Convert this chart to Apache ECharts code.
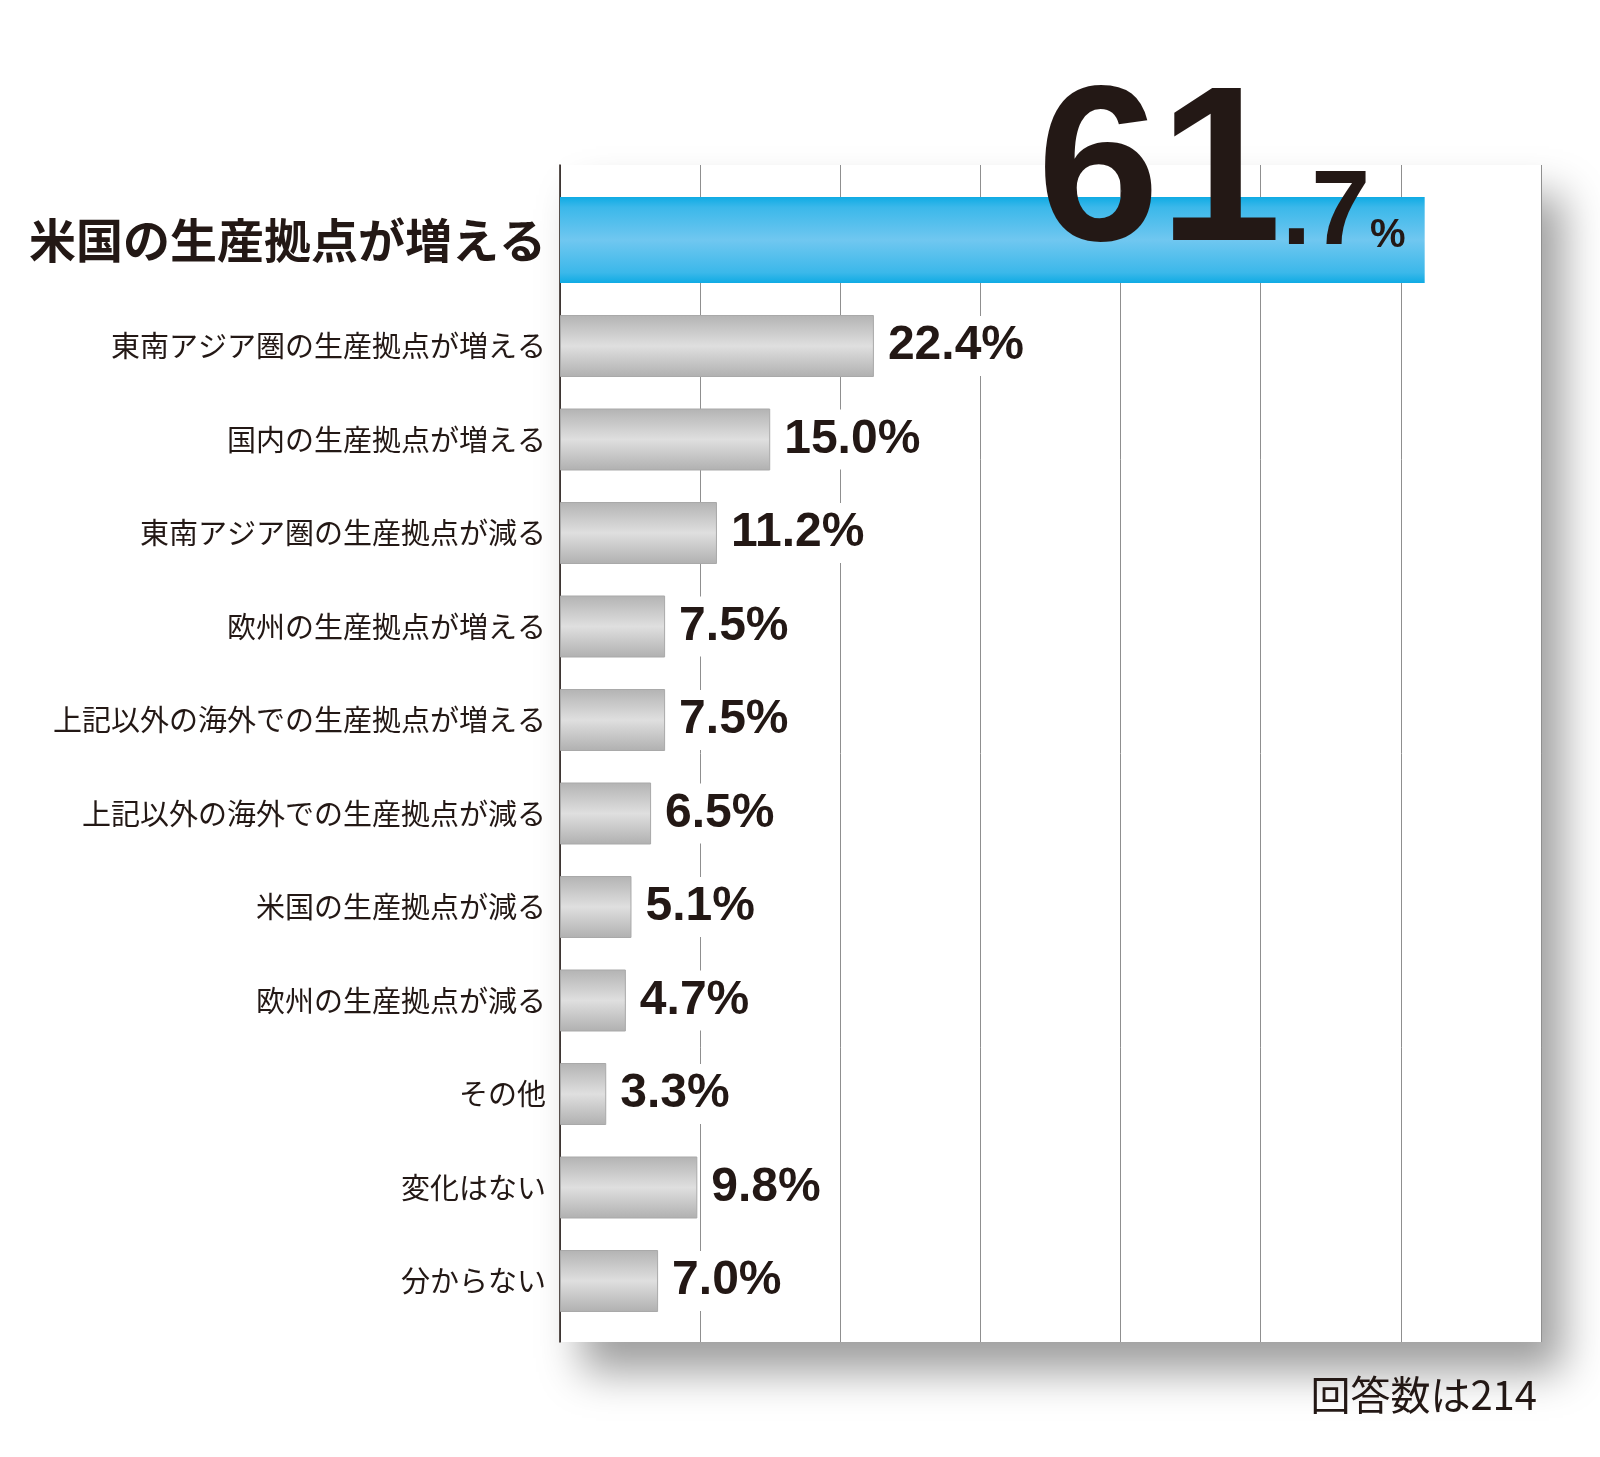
<!DOCTYPE html>
<html><head><meta charset="utf-8">
<script src="https://cdn.jsdelivr.net/npm/echarts@6/dist/echarts.min.js"></script>
<style>html,body{margin:0;padding:0;background:#fff}#c{width:1600px;height:1457px}</style>
</head><body><div id="c"></div>
<script>
const highlightCategory = ['米国の生産拠点が増える'];
const highlightValue = [61.7];
const categories = ['東南アジア圏の生産拠点が増える','国内の生産拠点が増える','東南アジア圏の生産拠点が減る','欧州の生産拠点が増える','上記以外の海外での生産拠点が増える','上記以外の海外での生産拠点が減る','米国の生産拠点が減る','欧州の生産拠点が減る','その他','変化はない','分からない'];
const values = [22.4,15.0,11.2,7.5,7.5,6.5,5.1,4.7,3.3,9.8,7.0];
const footnote = '回答数は214';

const ink = '#231815';
const cjk = "'Noto Sans CJK JP', sans-serif";
const numFont = "'Liberation Sans', Arial, sans-serif";
const bigFont = "'Liberation Sans', Arial, sans-serif";

const chart = echarts.init(document.getElementById('c'), null, {renderer:'canvas'});
const L = 560, W = 981;
chart.setOption({
  animation: false,
  title: {text: footnote, right: 58, top: 1370,
    textStyle: {fontFamily: cjk, fontSize: 40, fontWeight: 'normal', color: ink}},
  grid: [
    {left: L, top: 165, width: W, height: 1177, show: true, backgroundColor: '#fff', borderWidth: 0,
     shadowBlur: 40, shadowColor: 'rgba(0,0,0,0.38)', shadowOffsetX: 22, shadowOffsetY: 30},
    {left: L, top: 165, width: W, height: 150},
    {left: L, top: 299.25, width: W, height: 1028.5}
  ],
  xAxis: [
    {gridIndex: 0, type: 'value', min: 0, max: 70, interval: 10,
     axisLabel: {show: false}, axisTick: {show: false}, axisLine: {show: false},
     splitLine: {show: true, lineStyle: {color: '#8f8f8f', width: 1}}},
    {gridIndex: 1, type: 'value', min: 0, max: 70, interval: 10, show: false, splitLine: {show: false}},
    {gridIndex: 2, type: 'value', min: 0, max: 70, interval: 10, show: false, splitLine: {show: false}}
  ],
  yAxis: [
    {gridIndex: 0, type: 'value', min: 0, max: 1, axisLabel: {show: false}, axisTick: {show: false},
     splitLine: {show: false}, axisLine: {show: true, lineStyle: {color: ink, width: 1.5}}},
    {gridIndex: 1, type: 'category', data: highlightCategory, inverse: true,
     axisLine: {show: false}, axisTick: {show: false}, splitLine: {show: false},
     axisLabel: {margin: 14, fontFamily: cjk, fontSize: 47, fontWeight: 'bold', color: ink}},
    {gridIndex: 2, type: 'category', data: categories, inverse: true,
     axisLine: {show: false}, axisTick: {show: false}, splitLine: {show: false},
     axisLabel: {margin: 14, fontFamily: cjk, fontSize: 29, fontWeight: 'normal', color: ink}}
  ],
  series: [
    {type: 'bar', xAxisIndex: 1, yAxisIndex: 1, data: highlightValue, barWidth: 86, z: 3,
     itemStyle: {color: new echarts.graphic.LinearGradient(0,0,0,1,[
       {offset:0,color:'#0fabe4'},{offset:0.12,color:'#3bb8ea'},{offset:0.5,color:'#70c7f0'},
       {offset:0.88,color:'#3bb8ea'},{offset:1,color:'#0fabe4'}])},
     label: {show: true, position: 'insideRight', distance: 19, offset: [0, -71],
       formatter: p => { const s = p.value.toFixed(1).split('.'); return '{a|' + s[0] + '}{b|.' + s[1] + '}{c|%}'; },
       rich: {
         a: {fontFamily: bigFont, fontSize: 220, fontWeight: 'bold', color: ink, lineHeight: 240, verticalAlign: 'bottom'},
         b: {fontFamily: bigFont, fontSize: 106, fontWeight: 'bold', color: ink, lineHeight: 150, verticalAlign: 'bottom', padding: [0, 0, 21, 0]},
         c: {fontFamily: bigFont, fontSize: 40, fontWeight: 'bold', color: ink, lineHeight: 100, verticalAlign: 'bottom', padding: [0, 0, 33, 0]}
       }}},
    {type: 'bar', xAxisIndex: 2, yAxisIndex: 2, data: values, barWidth: 62, z: 3,
     itemStyle: {borderColor: '#a9a9a9', borderWidth: 1,
       color: new echarts.graphic.LinearGradient(0,0,0,1,[
       {offset:0,color:'#b3b3b3'},{offset:0.5,color:'#dfdfdf'},{offset:1,color:'#b0b0b0'}])},
     label: {show: true, position: 'right', distance: 11, formatter: p => p.value.toFixed(1) + '%',
       fontFamily: numFont, fontSize: 48, fontWeight: 'bold', color: ink,
       backgroundColor: '#fff', padding: [6, 3]}}
  ]
});
</script></body></html>
